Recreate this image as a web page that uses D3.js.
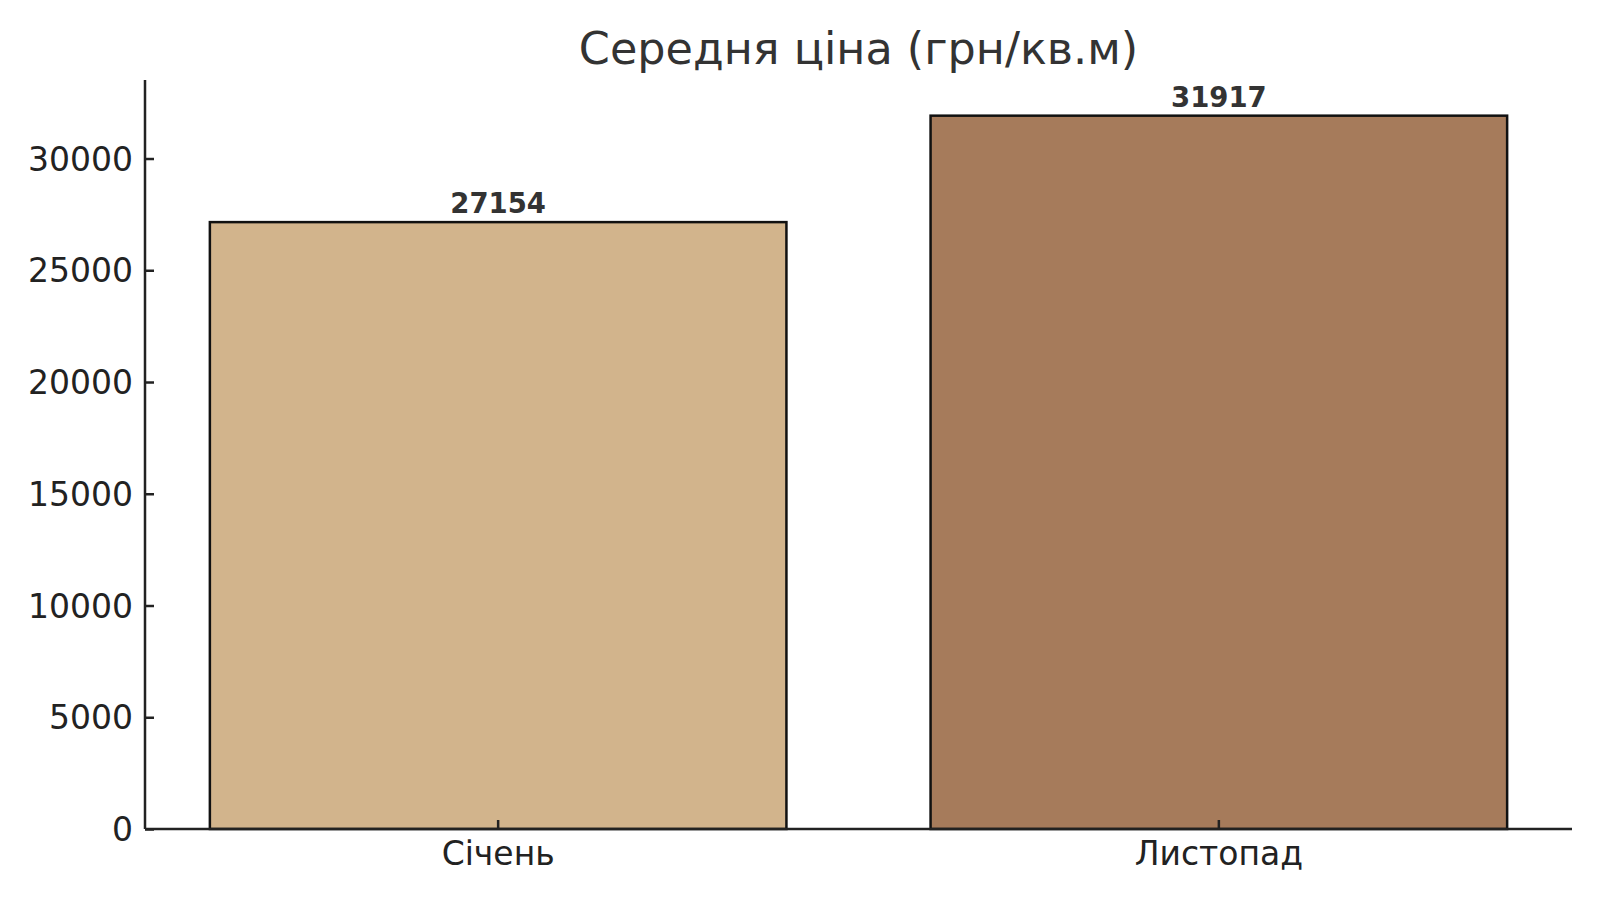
<!DOCTYPE html>
<html>
<head>
<meta charset="utf-8">
<script src="https://cdn.jsdelivr.net/npm/d3@7"></script>
<style>
	body { margin: 0; background: #fff; }
	svg { display: block; font-family: "DejaVu Sans", sans-serif; }
</style>
</head>
<body>
<div id="chart"></div>
<script>
// data
var months = ["Січень", "Листопад"];
var prices = [27154, 31917];
var barColors = ["#d2b48c", "#a67b5b"];
var yTicks = [0, 5000, 10000, 15000, 20000, 25000, 30000];
var title = "Середня ціна (грн/кв.м)";

var width = 1600, height = 900;
var margins = { left: 145, right: 28, top: 80, bottom: 71 };

var svg = d3.select("#chart").append("svg")
	.attr("width", width)
	.attr("height", height);

var x = d3.scaleBand()
	.domain(months)
	.range([margins.left, width - margins.right])
	.paddingInner(0.2)
	.paddingOuter(0.09);

var y = d3.scaleLinear()
	.domain([0, d3.max(prices) * 1.05])
	.range([height - margins.bottom, margins.top]);

var data = months.map(function(m, i) {
	return { month: m, value: prices[i], color: barColors[i] };
});

// bars
svg.selectAll(".bar")
	.data(data).enter()
	.append("rect")
		.attr("class", "bar")
		.attr("x", function(d) { return x(d.month); })
		.attr("y", function(d) { return y(d.value); })
		.attr("width", x.bandwidth())
		.attr("height", function(d) { return y(0) - y(d.value); })
		.attr("fill", function(d) { return d.color; })
		.attr("stroke", "#111")
		.attr("stroke-width", 2.5);

// value labels
svg.selectAll(".val")
	.data(data).enter()
	.append("text")
		.attr("class", "val")
		.attr("x", function(d) { return x(d.month) + x.bandwidth() / 2; })
		.attr("y", function(d) { return y(d.value) - 9; })
		.attr("text-anchor", "middle")
		.attr("fill", "#333")
		.style("font-size", "27.5px")
		.style("font-weight", "bold")
		.text(function(d) { return d.value; });

// axes, ticks pointing inward
var yAxis = d3.axisLeft(y).tickValues(yTicks).tickSizeInner(-9).tickSizeOuter(0).tickPadding(12)
	.tickFormat(d3.format("d"));
var xAxis = d3.axisBottom(x).tickSizeInner(-9).tickSizeOuter(0).tickPadding(13);

var gy = svg.append("g")
	.attr("transform", "translate(" + margins.left + ",0)")
	.call(yAxis);
var gx = svg.append("g")
	.attr("transform", "translate(0," + (height - margins.bottom) + ")")
	.call(xAxis);

gy.select(".domain").attr("d", "M0," + margins.top + "V" + y(0));
gx.select(".domain").attr("d", "M" + margins.left + ",0H" + (width - margins.right));

[gx, gy].forEach(function(g) {
	g.selectAll(".domain, .tick line").attr("stroke", "#222").attr("stroke-width", 2.5);
	g.selectAll(".tick text").attr("fill", "#222").style("font-size", "33px")
		.style("font-family", "'DejaVu Sans', sans-serif");
});
gy.selectAll(".tick text").attr("dy", "0.35em");
gx.selectAll(".tick text").attr("dy", "0.71em");

// title
svg.append("text")
	.attr("x", (margins.left + width - margins.right) / 2)
	.attr("y", 64)
	.attr("text-anchor", "middle")
	.attr("fill", "#333")
	.style("font-size", "44.5px")
	.text(title);
</script>
</body>
</html>
